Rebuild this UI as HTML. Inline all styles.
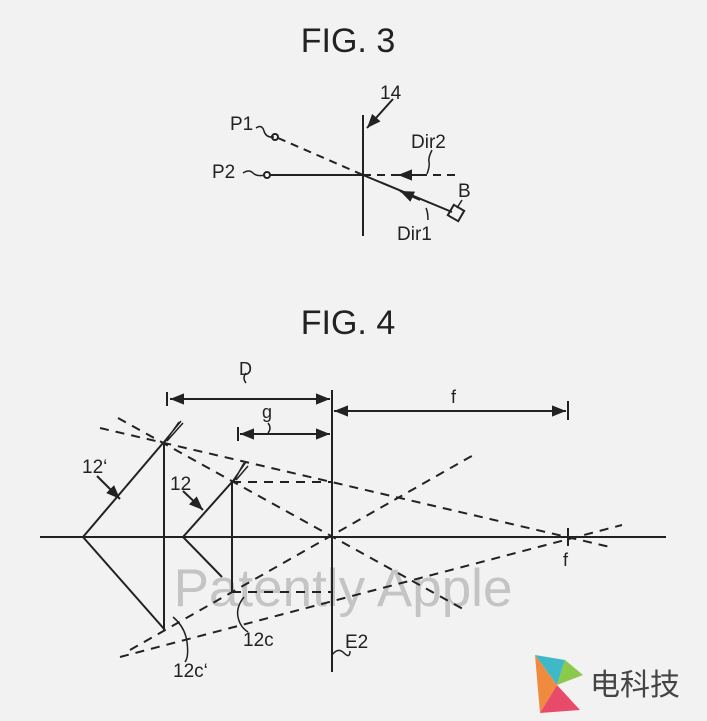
<!DOCTYPE html>
<html><head><meta charset="utf-8"><style>
body{margin:0;background:#f2f2f2;}
svg{display:block}
text{font-family:"Liberation Sans","Noto Sans CJK SC",sans-serif;fill:#222}
</style></head><body>
<svg width="707" height="721" viewBox="0 0 707 721" xmlns="http://www.w3.org/2000/svg">
<defs>
<marker id="a" viewBox="0 0 10 10" refX="10" refY="5" markerWidth="7" markerHeight="7" orient="auto-start-reverse"><path d="M0,1 L10,5 L0,9 z" fill="#222"/></marker>
</defs>
<rect width="707" height="721" fill="#f2f2f2"/>
<text x="348" y="52" font-size="34" text-anchor="middle">FIG. 3</text>
<g stroke="#222" stroke-width="2" fill="none">
<line x1="363" y1="115" x2="363" y2="236"/>
<line x1="270" y1="175" x2="363" y2="175"/>
<line x1="363" y1="175" x2="460" y2="175" stroke-dasharray="8,6"/>
<line x1="278" y1="138" x2="363" y2="175" stroke-dasharray="8,6"/>
<line x1="363" y1="175" x2="452" y2="212"/>
<circle cx="267" cy="175" r="3"/>
<circle cx="275" cy="137" r="3"/>
<rect x="450" y="207" width="12" height="12" transform="rotate(30 456 213)"/>
<line x1="393" y1="99" x2="367" y2="128" marker-end="url(#a)"/>
<line x1="420" y1="175" x2="398" y2="175" marker-end="url(#a)"/>
<line x1="420" y1="200" x2="400" y2="191" marker-end="url(#a)"/>
<path d="M256 128 q6 -4 8 3 t10 6" stroke-width="1.5"/>
<path d="M243 173 q6 -4 10 0 t12 2" stroke-width="1.5"/>
<path d="M432 150 q-4 8 -3 12 t-2 12" stroke-width="1.5"/>
<path d="M428 220 q0 -8 -2 -12" stroke-width="1.5"/>
<path d="M462 200 l-5 8" stroke-width="1.5"/>
</g>
<text x="380" y="99" font-size="19">14</text>
<text x="230" y="130" font-size="19">P1</text>
<text x="212" y="178" font-size="19">P2</text>
<text x="411" y="148" font-size="19">Dir2</text>
<text x="458" y="197" font-size="19">B</text>
<text x="397" y="240" font-size="19">Dir1</text>

<text x="348" y="334" font-size="34" text-anchor="middle">FIG. 4</text>
<text x="343" y="606" font-size="53" text-anchor="middle" style="fill:#c4c4c4">Patently Apple</text>
<g stroke="#222" stroke-width="2" fill="none">
<line x1="40" y1="537" x2="666" y2="537"/>
<line x1="332" y1="390" x2="332" y2="672"/>
<polyline points="163,443 83,537 165,630"/>
<line x1="164" y1="443" x2="164" y2="630"/>
<polyline points="232,482 183,537 222,577"/>
<line x1="232" y1="482" x2="232" y2="592"/>
<line x1="232" y1="592" x2="238" y2="592"/>
<line x1="568" y1="401" x2="568" y2="420"/>
<line x1="568" y1="528" x2="568" y2="546"/>
<line x1="167" y1="392" x2="167" y2="406"/>
<line x1="238" y1="427" x2="238" y2="441"/>
<line x1="170" y1="399" x2="330" y2="399" marker-start="url(#a)" marker-end="url(#a)"/>
<line x1="240" y1="434" x2="330" y2="434" marker-start="url(#a)" marker-end="url(#a)"/>
<line x1="334" y1="411" x2="566" y2="411" marker-start="url(#a)" marker-end="url(#a)"/>
<g stroke-dasharray="9,7">
<line x1="100" y1="428" x2="610" y2="547"/>
<line x1="118" y1="418" x2="463" y2="609"/>
<line x1="232" y1="482" x2="332" y2="482"/>
<line x1="232" y1="592" x2="332" y2="592"/>
<line x1="120" y1="657" x2="622" y2="525"/>
<line x1="130" y1="650" x2="477" y2="453"/>
</g>
<line x1="97" y1="476" x2="120" y2="499" marker-end="url(#a)"/>
<line x1="183" y1="491" x2="203" y2="510" marker-end="url(#a)"/>
<path d="M163 443 l18 -22 M165 442 l14 -20 M167 441 l16 -18" stroke-width="1.5"/>
<path d="M232 482 l14 -20 M234 481 l10 -18 M236 480 l12 -14" stroke-width="1.5"/>
<path d="M246 373 q-4 5 0 10" stroke-width="1.5"/>
<path d="M268 423 q4 5 0 10" stroke-width="1.5"/>
<path d="M244 597 q-8 10 -6 20 t10 15" stroke-width="1.5"/>
<path d="M173 617 q12 10 14 25 t-2 20" stroke-width="1.5"/>
<path d="M332 655 q6 -8 12 -2 t6 -2" stroke-width="1.5"/>
</g>
<text x="239" y="375" font-size="18">D</text>
<text x="262" y="418" font-size="18">g</text>
<text x="451" y="403" font-size="18">f</text>
<text x="563" y="566" font-size="18">f</text>
<text x="82" y="473" font-size="19">12‘</text>
<text x="170" y="490" font-size="19">12</text>
<text x="243" y="646" font-size="19">12c</text>
<text x="173" y="677" font-size="19">12c‘</text>
<text x="345" y="648" font-size="19">E2</text>
<g transform="translate(535,655)">
<path d="M0 0 L30 5 L22 30 Z" fill="#3fb9c7"/>
<path d="M0 0 L22 30 L5 58 Z" fill="#f08a3e"/>
<path d="M22 30 L5 58 L45 55 Z" fill="#e84b6a"/>
<path d="M30 5 L48 20 L22 30 Z" fill="#8cc84b"/>
</g>
<text x="590" y="695" font-size="30" style="fill:#444">电科技</text>
</svg>
</body></html>
